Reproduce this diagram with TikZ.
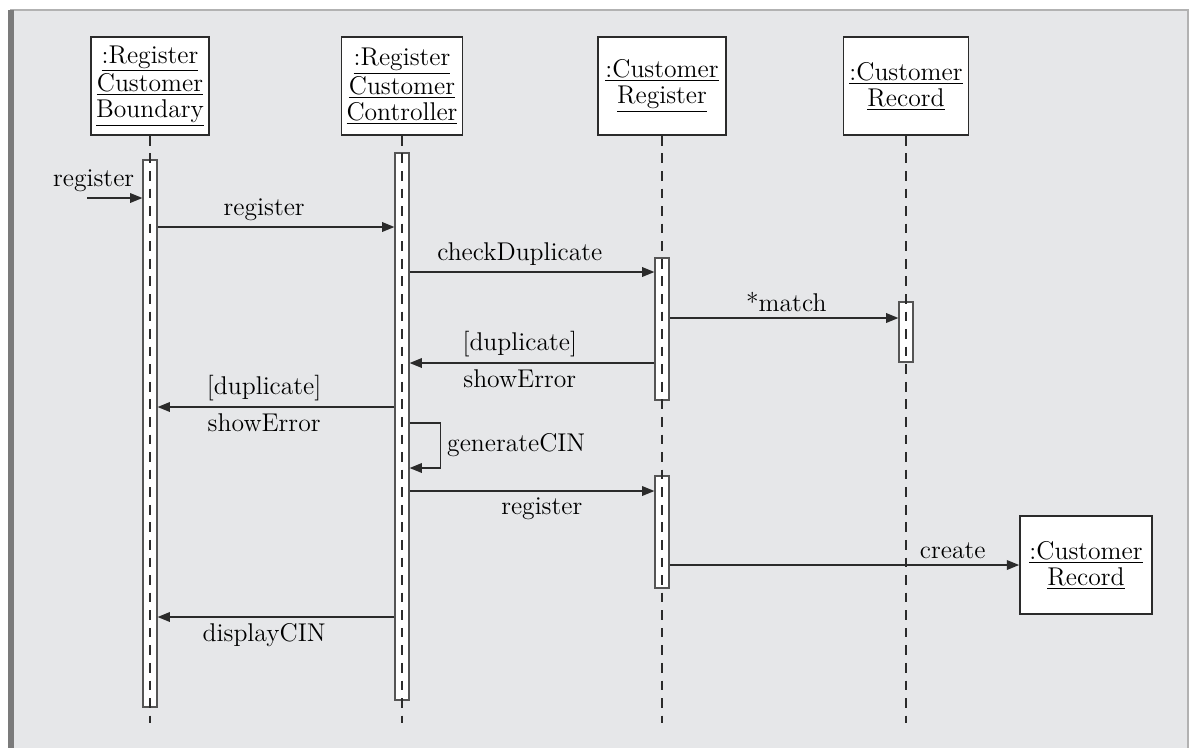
\documentclass[tikz,border=0pt]{standalone}
\usepackage{tikz}
\usetikzlibrary{arrows.meta}
\definecolor{panel}{HTML}{E6E7E9}
\definecolor{frame}{HTML}{7B7B7B}
\definecolor{ink}{HTML}{2B2B2B}

\begin{document}
\begin{tikzpicture}[x=0.02cm, y=-0.02cm, font=\fontsize{14.6}{14.8}\selectfont, >={Triangle[length=7pt,width=5.5pt]},
	obj/.style={draw=ink, line width=1pt, fill=white, align=center, minimum height=1.96cm, inner sep=2pt},
	act/.style={draw=ink!80, line width=0.7pt, fill=white, minimum width=0.28cm, inner sep=0pt},
	life/.style={ink, line width=0.9pt, dash pattern=on 5.5pt off 4.5pt},
	msg/.style={->, draw=ink, text=black, line width=0.8pt}]
			\useasboundingbox (0,0) rectangle (1195,751);
			\fill[white] (0,0) rectangle (1195,751);
			\fill[panel] (10,10) rectangle (1188,748);
			\draw[gray!60, line width=1pt] (10,10) -- (1188,10) -- (1188,748);
			\fill[frame] (8,10) rectangle (14,748);
			\node[obj, minimum width=2.36cm] (bnd) at (150,86) {\underline{:Register}\\\underline{Customer}\\\underline{Boundary}};
			\node[obj, minimum width=2.42cm] (ctl) at (402,86) {\underline{:Register}\\\underline{Customer}\\\underline{Controller}};
			\node[obj, minimum width=2.56cm] (reg) at (662,86) {\underline{:Customer}\\\underline{Register}};
			\node[obj, minimum width=2.5cm] (rec) at (906,86) {\underline{:Customer}\\\underline{Record}};
			\node[obj, minimum width=2.64cm] (newrec) at (1086,565) {\underline{:Customer}\\\underline{Record}};
			\node[act, minimum height=10.94cm] (actA) at (150,433.5) {};
			\node[act, minimum height=10.94cm] (actB) at (402,426.5) {};
			\node[act, minimum height=2.84cm] (actC) at (662,329) {};
			\node[act, minimum height=1.2cm] (actD) at (906,332) {};
			\node[act, minimum height=2.24cm] (actE) at (662,532) {};
			\foreach \o in {bnd,ctl,reg,rec}
				\draw[life] (\o.south) -- ++(0,587);
			\coordinate (in) at (87,198);
			\draw[msg] (in) -- node[above, pos=0.12] {register} (actA.west |- in);
			\draw[msg] (actA.east |- 0,227) -- node[above, pos=0.45] {register} (actB.west |- 0,227);
			\draw[msg] (actB.east |- 0,272) -- node[above, pos=0.45] {checkDuplicate} (actC.west |- 0,272);
			\draw[msg] (actC.east |- 0,318) -- node[above, pos=0.51] {*match} (actD.west |- 0,318);
			\draw[msg] (actC.west |- 0,363) -- node[above, pos=0.55] {[duplicate]} node[below, pos=0.55] {showError} (actB.east |- 0,363);
			\draw[msg] (actB.west |- 0,407) -- node[above, pos=0.55] {[duplicate]} node[below, pos=0.55] {showError} (actA.east |- 0,407);
			\draw[msg] (actB.east |- 0,423) -- ++(31,0) |- node[right, pos=0.25] {generateCIN} (actB.east |- 0,468);
			\draw[msg] (actB.east |- 0,491) -- node[below, pos=0.54] {register} (actE.west |- 0,491);
			\draw[msg] (actE.east |- newrec.west) -- node[above, pos=0.81] {create} (newrec.west);
			\draw[msg] (actB.west |- 0,617) -- node[below, pos=0.55] {displayCIN} (actA.east |- 0,617);
		\end{tikzpicture}
\end{document}
